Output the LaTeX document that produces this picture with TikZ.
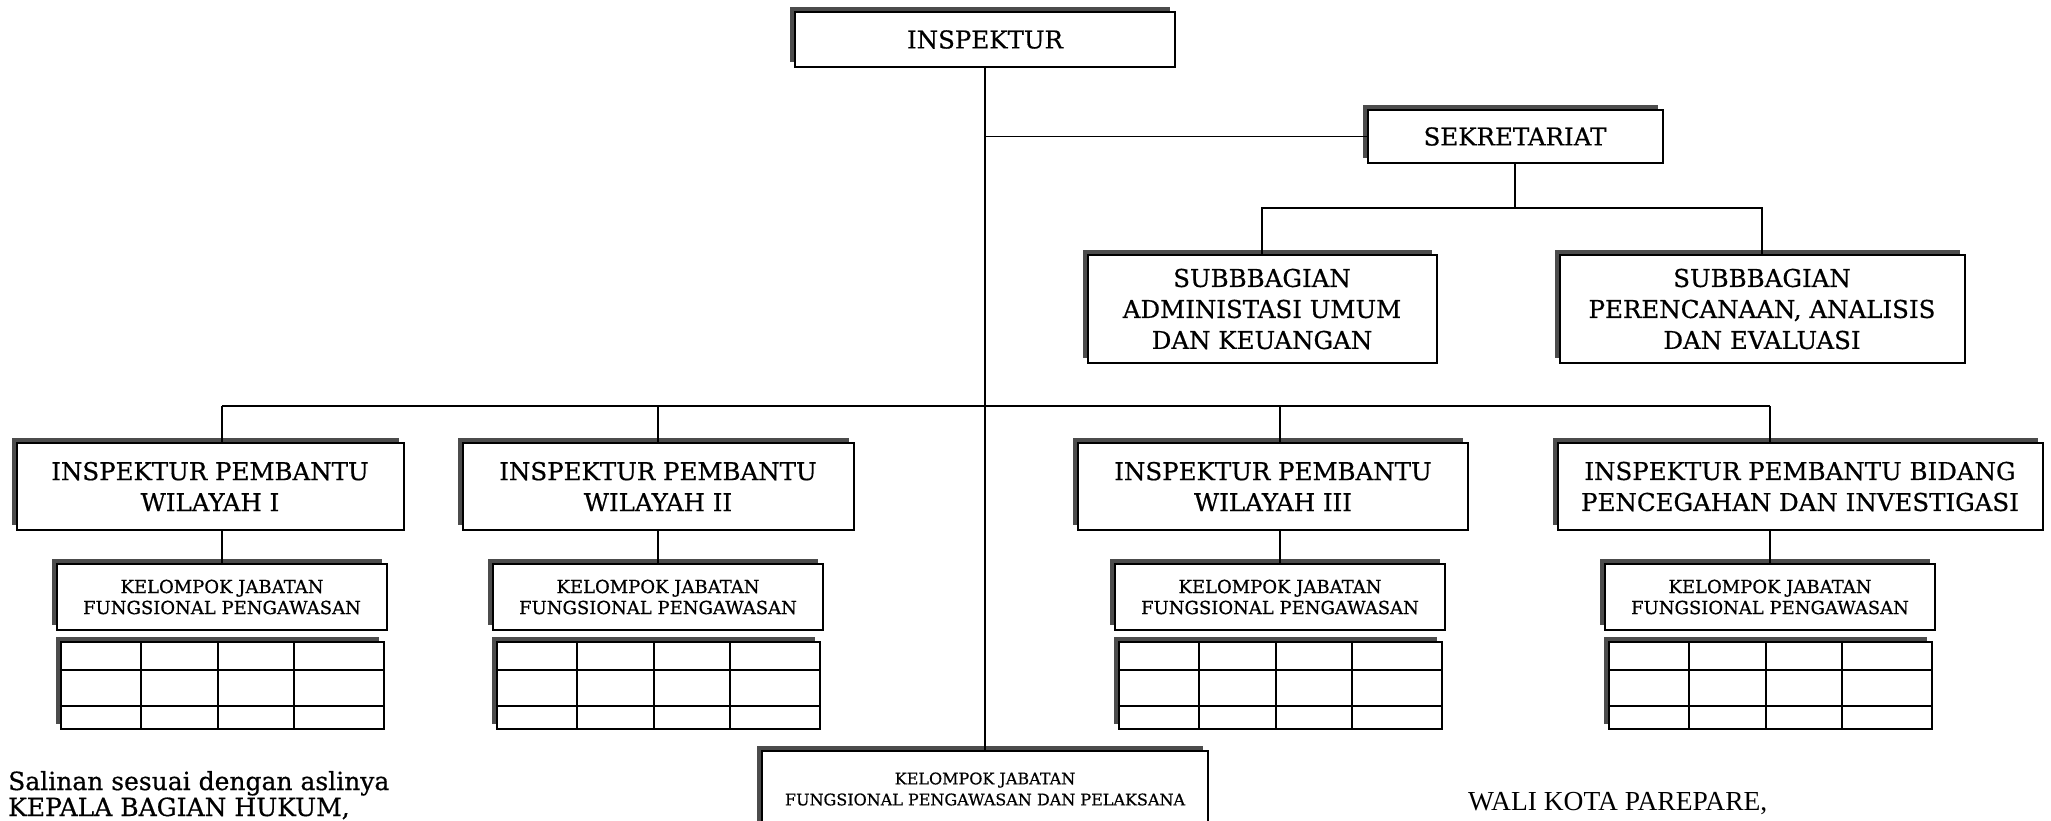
\documentclass[tikz,border=0pt]{standalone}
\usepackage{fontspec}
\setmainfont{DejaVu Serif}[FakeBold=0.6]
\newfontfamily\timesfont{Liberation Serif}
\usepackage{tikz}
\usetikzlibrary{calc,positioning,shadows}
\tikzset{
  unitbox/.style={draw, line width=2pt, fill=white, inner sep=0pt, align=center,
    drop shadow={shadow xshift=-5pt, shadow yshift=5pt, fill=black!70, opacity=1},
    font=\fontsize{24.5}{31}\selectfont},
  kjf/.style={unitbox, minimum width=330pt, minimum height=66pt, font=\fontsize{18}{21}\selectfont},
  tabel/.style={unitbox, minimum width=323pt, minimum height=87pt},
  grid/.style={line width=2pt},
  conn/.style={line width=1.8pt},
  note/.style={anchor=base west, inner sep=0pt, font=\fontsize{25}{28}\selectfont}
}

\begin{document}
\begin{tikzpicture}[x=1pt, y=-1pt]
\path[use as bounding box, fill=white] (0,0) rectangle (2051,820);

% pimpinan dan sekretariat
\node[unitbox, minimum width=380pt, minimum height=55pt] (insp) at (985,39.5) {INSPEKTUR};
\node[unitbox, minimum width=295pt, minimum height=53pt] (sek) at (1515,136.5) {SEKRETARIAT};
\node[unitbox, minimum width=349pt, minimum height=108pt] (suba) at (1262,309) {SUBBBAGIAN\\ADMINISTASI UMUM\\DAN KEUANGAN};
\node[unitbox, minimum width=405pt, minimum height=108pt] (subb) at (1762,309) {SUBBBAGIAN\\PERENCANAAN, ANALISIS\\DAN EVALUASI};

% inspektur pembantu
\node[unitbox, minimum width=387pt, minimum height=87pt] (ipa) at (210,486.5) {INSPEKTUR PEMBANTU\\WILAYAH I};
\node[unitbox, minimum width=391pt, minimum height=87pt] (ipb) at (658,486.5) {INSPEKTUR PEMBANTU\\WILAYAH II};
\node[unitbox, minimum width=390pt, minimum height=87pt] (ipc) at (1273,486.5) {INSPEKTUR PEMBANTU\\WILAYAH III};
\node[unitbox, minimum width=485pt, minimum height=87pt] (ipd) at (1800,486.5) {INSPEKTUR PEMBANTU BIDANG\\PENCEGAHAN DAN INVESTIGASI};

% kelompok jabatan fungsional
\node[kjf] (kjfa) at (222,597) {KELOMPOK JABATAN\\FUNGSIONAL PENGAWASAN};
\node[kjf] (kjfb) at (658,597) {KELOMPOK JABATAN\\FUNGSIONAL PENGAWASAN};
\node[kjf] (kjfc) at (1280,597) {KELOMPOK JABATAN\\FUNGSIONAL PENGAWASAN};
\node[kjf] (kjfd) at (1770,597) {KELOMPOK JABATAN\\FUNGSIONAL PENGAWASAN};
\node[kjf, minimum width=446pt, minimum height=76pt, font=\fontsize{16}{21}\selectfont] (kjfp) at (985,789) {KELOMPOK JABATAN\\FUNGSIONAL PENGAWASAN DAN PELAKSANA};

\foreach \k in {a,b,c,d}{
  \node[tabel, below=10pt of kjf\k] (tab\k) {};
  \foreach \c in {81,158,234}
    \draw[grid] ($(tab\k.north west)+(\c,0)$) -- ($(tab\k.south west)+(\c,0)$);
  \foreach \r in {29,65}
    \draw[grid] ($(tab\k.north west)+(0,\r)$) -- ($(tab\k.north east)+(0,\r)$);
}

% garis
\coordinate (bus) at (0,406);
\coordinate (sekbus) at (0,208);
\draw[conn] (insp.south) -- (kjfp.north);
\draw[conn] (insp.south |- sek.west) -- (sek.west);
\draw[conn] (sek.south) -- (sek.south |- sekbus);
\draw[conn] (suba.north) -- (suba.north |- sekbus) -- (subb.north |- sekbus) -- (subb.north);
\draw[conn] (kjfa.north |- bus) -- (kjfd.north |- bus);
\foreach \k in {a,b,c,d}{
  \draw[conn] (kjf\k.north |- bus) -- (kjf\k.north |- ip\k.north);
  \draw[conn] (kjf\k.north |- ip\k.south) -- (kjf\k.north);
}

% pengesahan
\node[note] (salin) at (8,790) {Salinan sesuai dengan aslinya};
\node[note] (kabag) at (8,816) {KEPALA BAGIAN HUKUM,};
\node[note, font=\timesfont\fontsize{27.5}{30}\selectfont] (wali) at (1468,810) {WALI KOTA PAREPARE,};
\end{tikzpicture}
\end{document}
